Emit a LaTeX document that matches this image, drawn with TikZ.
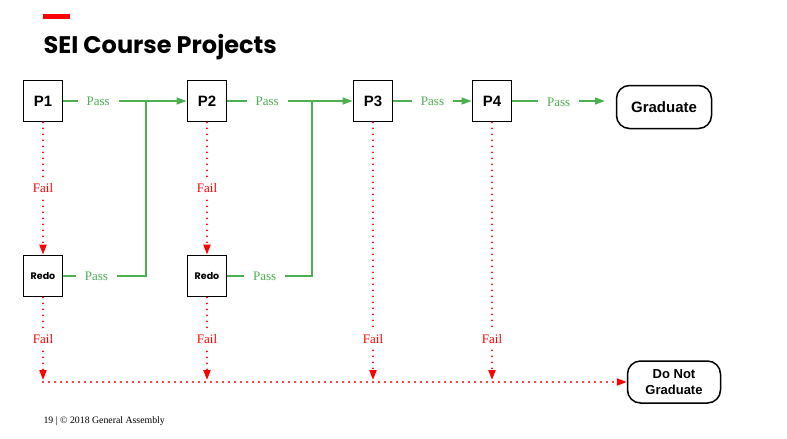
\documentclass[tikz,border=0pt]{standalone}
\usepackage{fontspec}
\setmainfont{Liberation Serif}
\newfontfamily\arial{Liberation Sans}
\newfontfamily\titre{Poppins}
\usetikzlibrary{arrows.meta}
\definecolor{vert}{RGB}{76,175,80}
\definecolor{rouge}{RGB}{255,0,0}

\begin{document}
\begin{tikzpicture}[x=1pt, y=-1pt,
    projet/.style={draw=black, line width=1.8pt, minimum width=39pt, minimum height=41pt, inner sep=0pt, font=\arial\bfseries\fontsize{15}{15}\selectfont},
    refaire/.style={projet, font=\titre\bfseries\fontsize{9.5}{10}\selectfont},
    sortie/.style={draw=black, line width=1.5pt, rounded corners=13pt, align=center, inner sep=0pt, font=\arial\bfseries\fontsize{15}{16}\selectfont},
    passe/.style={draw=vert, line width=1.4pt},
    echec/.style={draw=rouge, line width=2.1pt, line cap=round, dash pattern=on 0pt off 6pt},
    etiq/.style={fill=white, inner xsep=9pt, inner ysep=3pt, font=\fontsize{13}{13}\selectfont},
    fleche/.style={-{Triangle[length=10pt, width=7pt]}}]
    \useasboundingbox (0,0) rectangle (787,439);

    \fill[rouge] (43,14) rectangle (70,18.5);
    \node[anchor=base west, font=\titre\bfseries\fontsize{24}{24}\selectfont] (titre) at (40,53) {SEI Course Projects};

    \node[projet] (P1) at (43, 101) {P1};
    \node[projet] (P2) at (207, 101) {P2};
    \node[projet] (P3) at (373, 101) {P3};
    \node[projet] (P4) at (492, 101) {P4};
    \node[refaire] (R1) at (43, 276) {Redo};
    \node[refaire] (R2) at (207, 276) {Redo};
    \node[sortie, minimum width=95pt, minimum height=43pt] (G) at (664, 107) {Graduate};
    \node[sortie, minimum width=93pt, minimum height=42pt, font=\arial\bfseries\fontsize{13}{16}\selectfont] (N) at (674, 382) {Do Not\\Graduate};

    \coordinate (j1) at (146, 101);
    \coordinate (j2) at (312, 101);
    \coordinate (g) at (605, 101);
    \coordinate (b1) at (43, 380);
    \coordinate (b2) at (207, 380);
    \coordinate (b3) at (373, 380);
    \coordinate (b4) at (492, 380);
    \coordinate (h) at (43, 382);

    \draw[passe] (P1) to node[etiq, text=vert, pos=0.42] {Pass} (j1);
    \draw[passe, fleche] (j1) to (P2);
    \draw[passe] (R1) -| node[etiq, text=vert, pos=0.2] {Pass} (j1);
    \draw[passe] (P2) to node[etiq, text=vert, pos=0.47] {Pass} (j2);
    \draw[passe, fleche] (j2) to (P3);
    \draw[passe] (R2) -| node[etiq, text=vert, pos=0.22] {Pass} (j2);
    \draw[passe, fleche] (P3) to node[etiq, text=vert] {Pass} (P4);
    \draw[passe, fleche] (P4) to node[etiq, text=vert, yshift=-1pt] {Pass} (g);

    \draw[echec, fleche] (P1) to node[etiq, text=rouge] {Fail} (R1);
    \draw[echec, fleche] (P2) to node[etiq, text=rouge] {Fail} (R2);
    \draw[echec, fleche] (R1) to node[etiq, text=rouge] {Fail} (b1);
    \draw[echec, fleche] (R2) to node[etiq, text=rouge] {Fail} (b2);
    \draw[echec, fleche] (P3) to node[etiq, text=rouge, pos=0.84] {Fail} (b3);
    \draw[echec, fleche] (P4) to node[etiq, text=rouge, pos=0.84] {Fail} (b4);
    \draw[echec, fleche] (h) to (N);

    \node[anchor=base west, font=\fontsize{9.8}{10}\selectfont] (pied) at (40, 423) {19 | © 2018 General Assembly};
\end{tikzpicture}
\end{document}
